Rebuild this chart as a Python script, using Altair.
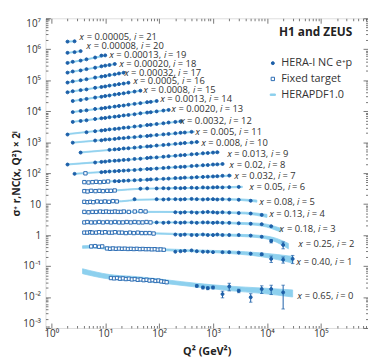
import altair as alt
import pandas as pd

# ---------------- data ----------------
# index of every list below = i  (the plotted value is sigma * 2**i)
X_VALUES = ["0.65", "0.40", "0.25", "0.18", "0.13", "0.08", "0.05", "0.032", "0.02",
            "0.013", "0.008", "0.005", "0.0032", "0.0020", "0.0013", "0.0008", "0.0005",
            "0.00032", "0.00020", "0.00013", "0.00008", "0.00005"]

HERA_Q2 = [
    [500, 650, 800, 1000, 1500, 2000, 3000, 5000, 8000, 12000, 20000],
    [200, 250, 300, 400, 500, 650, 800, 1000, 1500, 2000, 3000, 5000, 8000, 12000, 20000, 30000],
    [200, 250, 300, 400, 500, 650, 800, 1000, 1200, 1500, 2000, 3000, 5000, 8000, 12000, 20000],
    [90, 120, 150, 200, 250, 300, 400, 500, 650, 800, 1000, 1200, 1500, 2000, 3000, 5000, 8000, 12000],
    [200, 250, 300, 400, 500, 650, 800, 1000, 1200, 1500, 2000, 3000, 5000, 8000],
    [35, 90, 120, 150, 200, 250, 300, 400, 500, 650, 800, 1000, 1200, 1500, 2000, 3000, 5000],
    [45, 60, 90, 120, 150, 200, 250, 300, 400, 500, 650, 800, 1000, 1200, 1500, 2000, 3000],
    [15, 18, 22, 27, 35, 45, 60, 70, 90, 120, 150, 200, 250, 300, 400, 500, 650, 800, 1000, 1200, 1500, 2000],
    [2.7, 8.5, 10, 12, 15, 18, 22, 27, 35, 45, 60, 70, 90, 120, 150, 200, 250, 300, 400, 500, 650, 800, 1000, 1200, 1500],
    [2, 6.5, 8.5, 10, 12, 15, 18, 22, 27, 35, 45, 60, 70, 90, 120, 150, 200, 250, 300, 400, 500, 650, 800, 1000, 1200],
    [3.5, 12, 15, 18, 22, 27, 35, 45, 60, 70, 90, 120, 150, 200, 250, 300, 400, 500],
    [2.5, 6.5, 8.5, 10, 12, 15, 18, 22, 27, 35, 45, 60, 70, 90, 120, 150, 200, 250, 300, 400],
    [2, 4.5, 6.5, 8.5, 10, 12, 15, 18, 22, 27, 35, 45, 60, 70, 90, 120, 150, 200, 250],
    [2.5, 3.5, 4.5, 6.5, 8.5, 10, 12, 15, 18, 22, 27, 35, 45, 60, 70, 90, 120, 150],
    [2.5, 3.5, 4.5, 6.5, 8.5, 10, 12, 15, 18, 22, 27, 35, 45, 60, 70, 90],
    [2.5, 3.5, 4.5, 6.5, 8.5, 10, 12, 15, 18, 22, 27, 35, 45],
    [2, 2.5, 3.5, 4.5, 6.5, 8.5, 10, 12, 15, 18, 22, 27],
    [2, 2.5, 3.5, 4.5, 6.5, 8.5, 10, 12, 15, 18, 22],
    [2, 2.5, 3.5, 4.5, 6.5, 8.5, 10, 12, 15],
    [2, 2.5, 3.5, 4.5, 6.5, 8.5, 10],
    [2, 2.7, 3.5],
    [2, 2.7],
]
HERA_SIGMA = [
    [0.0228, 0.0203, 0.0193, 0.0203, 0.0124, 0.0218, 0.0158, 0.0098, 0.0180, 0.0180, 0.0141],
    [0.145, 0.15, 0.155, 0.16, 0.15, 0.145, 0.145, 0.14, 0.14, 0.14, 0.135, 0.125, 0.12, 0.085, 0.08, 0.085],
    [0.26, 0.25, 0.26, 0.25, 0.25, 0.26, 0.25, 0.25, 0.26, 0.25, 0.25, 0.25, 0.24, 0.22, 0.16, 0.12],
    [0.32, 0.31, 0.32, 0.32, 0.31, 0.32, 0.32, 0.31, 0.32, 0.32, 0.31, 0.32, 0.31, 0.31, 0.30, 0.29, 0.28, 0.24],
    [0.34, 0.33, 0.34, 0.34, 0.33, 0.34, 0.35, 0.34, 0.33, 0.34, 0.33, 0.32, 0.31, 0.28],
    [0.45, 0.45, 0.44, 0.45, 0.45, 0.44, 0.45, 0.46, 0.45, 0.44, 0.45, 0.45, 0.44, 0.45, 0.44, 0.43, 0.40],
    [0.49, 0.50, 0.50, 0.51, 0.50, 0.52, 0.51, 0.52, 0.53, 0.52, 0.54, 0.53, 0.54, 0.55, 0.54, 0.55, 0.56],
    [0.43, 0.43, 0.44, 0.45, 0.46, 0.47, 0.48, 0.49, 0.50, 0.51, 0.52, 0.54, 0.54, 0.56, 0.56, 0.58, 0.59, 0.60, 0.61, 0.62, 0.64, 0.65],
    [0.37, 0.42, 0.43, 0.44, 0.45, 0.46, 0.47, 0.48, 0.49, 0.51, 0.53, 0.53, 0.55, 0.57, 0.59, 0.61, 0.62, 0.63, 0.66, 0.68, 0.70, 0.71, 0.74, 0.75, 0.77],
    [0.37, 0.43, 0.45, 0.46, 0.48, 0.49, 0.50, 0.52, 0.53, 0.56, 0.57, 0.60, 0.62, 0.63, 0.66, 0.69, 0.71, 0.74, 0.75, 0.79, 0.81, 0.85, 0.87, 0.90, 0.92],
    [0.45, 0.55, 0.57, 0.58, 0.61, 0.62, 0.65, 0.68, 0.71, 0.72, 0.76, 0.79, 0.82, 0.86, 0.89, 0.92, 0.95, 0.99],
    [0.47, 0.55, 0.56, 0.59, 0.60, 0.62, 0.65, 0.66, 0.69, 0.71, 0.75, 0.77, 0.80, 0.83, 0.87, 0.90, 0.94, 0.98, 1.00, 1.05],
    [0.43, 0.51, 0.55, 0.58, 0.60, 0.63, 0.65, 0.67, 0.71, 0.73, 0.78, 0.81, 0.87, 0.89, 0.94, 0.99, 1.05, 1.10, 1.15],
    [0.55, 0.59, 0.62, 0.68, 0.72, 0.74, 0.78, 0.81, 0.84, 0.89, 0.92, 0.97, 1.04, 1.10, 1.13, 1.20, 1.28, 1.34],
    [0.57, 0.62, 0.65, 0.72, 0.75, 0.78, 0.82, 0.86, 0.90, 0.93, 0.99, 1.05, 1.11, 1.19, 1.22, 1.30],
    [0.65, 0.70, 0.76, 0.84, 0.89, 0.94, 0.98, 1.05, 1.10, 1.15, 1.23, 1.31, 1.40],
    [0.62, 0.67, 0.73, 0.77, 0.87, 0.92, 0.96, 1.02, 1.07, 1.14, 1.19, 1.26],
    [0.64, 0.70, 0.76, 0.82, 0.93, 1.00, 1.04, 1.12, 1.18, 1.26, 1.33],
    [0.67, 0.73, 0.79, 0.87, 0.97, 1.07, 1.13, 1.18, 1.27],
    [0.69, 0.75, 0.82, 0.90, 1.03, 1.19, 1.21],
    [0.73, 0.77, 0.83],
    [0.84, 0.86],
]
# error bars (same order as HERA points) for the three highest-x bins
HERA_ERR_0 = [0.002, 0.002, 0.002, 0.002, 0.003, 0.006, 0.002, 0.003, 0.005, 0.006, 0.010]
HERA_ERR_1 = [0, 0, 0, 0, 0, 0, 0, 0, 0, 0, 0, 0, 0.01, 0.02, 0.018, 0.025]
HERA_ERR_2 = [0, 0, 0, 0, 0, 0, 0, 0, 0, 0, 0, 0, 0, 0, 0.02, 0.03]

FT_Q2 = [
    [12.8, 14.6, 16.6, 18.8, 21.3, 24.2, 27.5, 31.2, 35.4, 40.2, 45.6, 51.7, 58.7, 66.6, 75.6, 85.8, 97.4, 110, 125, 138],
    [5.5, 6.5, 7.7, 8.8, 10.8, 12.3, 13.9, 15.8, 18, 20.5, 23.2, 26.4, 30, 34, 38.6, 43.9, 49.9, 56.7, 64.4, 73.2, 83.1, 94.4, 107, 122],
    [4.1, 4.66, 5.3, 5.76, 6.8, 7.7, 8.8, 10, 11.8, 13.4, 15.2, 18, 20.5, 24.2, 28.7, 33.9, 40.2, 47.6, 56.3, 66.7, 79],
    [4.1, 4.66, 5.5, 6.5, 7.7, 9.1, 10.9, 12.8, 15.2, 18, 21.2, 25.1, 29.7, 35.2, 41.7, 49.3, 58.4, 69.1],
    [4.1, 4.9, 5.8, 6.8, 8.05, 9.2, 10.4, 11.8, 13.4, 15.2, 17.2, 19.6, 22.2, 27.4, 35.3, 45.4, 56],
    [4.1, 4.7, 5.3, 6.0, 7.1, 8.4, 9.9, 11.7, 13.9, 16.4],
    [4.1, 4.7, 5.5, 6.6, 7.8, 9.1, 10.9, 12.7, 15],
    [4.1, 4.9, 5.8, 6.8, 8.0, 9.5, 11.3],
    [4.3],
] + [[] for _ in range(13)]
FT_SIGMA = [
    [0.041, 0.040, 0.041, 0.039, 0.040, 0.038, 0.039, 0.037, 0.038, 0.036, 0.037, 0.035, 0.036, 0.034, 0.035, 0.033, 0.034, 0.032, 0.031, 0.030],
    [0.215, 0.22, 0.21, 0.215, 0.185, 0.18, 0.185, 0.18, 0.183, 0.18, 0.182, 0.178, 0.18, 0.177, 0.18, 0.176, 0.178, 0.175, 0.176, 0.173, 0.175, 0.17, 0.172, 0.168],
    [0.30, 0.30, 0.31, 0.30, 0.30, 0.31, 0.30, 0.31, 0.30, 0.30, 0.31, 0.30, 0.30, 0.29, 0.30, 0.29, 0.30, 0.29, 0.29, 0.29, 0.28],
    [0.32, 0.33, 0.32, 0.32, 0.33, 0.32, 0.33, 0.32, 0.33, 0.32, 0.32, 0.33, 0.32, 0.33, 0.32, 0.32, 0.33, 0.32],
    [0.35, 0.34, 0.35, 0.35, 0.36, 0.35, 0.36, 0.35, 0.35, 0.36, 0.35, 0.35, 0.36, 0.35, 0.36, 0.37, 0.36],
    [0.37, 0.36, 0.37, 0.36, 0.38, 0.37, 0.38, 0.37, 0.39, 0.38],
    [0.41, 0.40, 0.42, 0.41, 0.42, 0.41, 0.42, 0.42, 0.43],
    [0.40, 0.39, 0.40, 0.41, 0.40, 0.41, 0.42],
    [0.385],
] + [[] for _ in range(13)]

# HERAPDF1.0 band: knots (Q2, sigma) and relative half width
BAND_Q2 = [
    [3.8, 12, 40, 140, 500, 2000, 8000, 30000],
    [3.8, 6, 10, 30, 100, 400, 2000, 8000, 30000],
    [4, 30, 200, 1000, 3000, 8000, 15000, 25000],
    [4, 70, 200, 1000, 3000, 8000, 18000],
    [4, 100, 1000, 4000, 10000],
    [4, 20, 40, 200, 2000, 5000, 6500],
    [4, 15, 45, 500, 3500],
    [4, 11, 30, 200, 2200],
    [2.6, 10, 100, 1600],
    [1.9, 10, 100, 1300],
    [3.3, 20, 100, 550],
    [2.4, 10, 60, 450],
    [1.9, 10, 60, 270],
    [2.4, 10, 50, 160],
    [2.4, 10, 40, 95],
    [2.4, 10, 47],
    [1.9, 6.5, 28],
    [1.9, 6.5, 23],
    [1.9, 6.5, 16],
    [1.9, 4.5, 10.5],
    [1.9, 3.6],
    [1.9, 2.8],
]
BAND_SIGMA = [
    [0.068, 0.045, 0.039, 0.031, 0.024, 0.019, 0.016, 0.013],
    [0.205, 0.21, 0.19, 0.18, 0.17, 0.155, 0.14, 0.115, 0.08],
    [0.30, 0.295, 0.27, 0.255, 0.245, 0.22, 0.17, 0.11],
    [0.32, 0.32, 0.32, 0.315, 0.30, 0.27, 0.18],
    [0.35, 0.35, 0.34, 0.32, 0.26],
    [0.365, 0.385, 0.43, 0.45, 0.445, 0.41, 0.39],
    [0.41, 0.43, 0.49, 0.52, 0.56],
    [0.40, 0.42, 0.45, 0.53, 0.65],
    [0.37, 0.43, 0.56, 0.77],
    [0.37, 0.46, 0.64, 0.93],
    [0.45, 0.59, 0.76, 0.99],
    [0.47, 0.58, 0.77, 1.06],
    [0.44, 0.60, 0.86, 1.16],
    [0.55, 0.74, 1.06, 1.35],
    [0.57, 0.78, 1.08, 1.31],
    [0.64, 0.94, 1.41],
    [0.62, 0.86, 1.27],
    [0.63, 0.92, 1.34],
    [0.66, 0.97, 1.29],
    [0.68, 0.90, 1.21],
    [0.72, 0.83],
    [0.84, 0.86],
]
BAND_WIDTH = [
    [0.2, 0.18, 0.16, 0.15, 0.15, 0.18, 0.22, 0.3],
    [0.1, 0.09, 0.08, 0.07, 0.07, 0.07, 0.1, 0.15, 0.28],
    [0.06, 0.05, 0.05, 0.06, 0.08, 0.1, 0.15, 0.22],
    [0.05, 0.04, 0.04, 0.05, 0.07, 0.1, 0.15],
    [0.05, 0.04, 0.05, 0.07, 0.12],
    [0.05, 0.04, 0.04, 0.04, 0.05, 0.07, 0.08],
    [0.04, 0.04, 0.04, 0.04, 0.05],
    [0.04, 0.04, 0.04, 0.04, 0.05],
    [0.04, 0.04, 0.04, 0.04],
    [0.04, 0.04, 0.04, 0.04],
    [0.04, 0.04, 0.04, 0.04],
    [0.04, 0.04, 0.04, 0.04],
    [0.04, 0.04, 0.04, 0.04],
    [0.04, 0.04, 0.04, 0.04],
    [0.04, 0.04, 0.04, 0.04],
    [0.04, 0.04, 0.04],
    [0.04, 0.04, 0.04],
    [0.04, 0.04, 0.04],
    [0.04, 0.04, 0.04],
    [0.04, 0.04, 0.04],
    [0.04, 0.04],
    [0.04, 0.04],
]

# series labels: anchor (Q2, sigma)
LABEL_Q2 = [36600, 35000, 38100, 17100, 10800, 7060, 4640, 2460, 2000, 1800, 596, 467,
            240, 166, 103, 51.1, 32.2, 22.0, 17.8, 11.7, 4.44, 3.31]
LABEL_SIGMA = [0.0107, 0.065, 0.127, 0.19, 0.29, 0.37, 0.55, 0.63, 0.70, 0.82, 0.94, 1.07,
               1.21, 1.44, 1.50, 1.51, 1.41, 1.31, 1.27, 1.21, 1.17, 1.18]

KINDS = ["HERA-I NC e\u207ap", "Fixed target", "HERAPDF1.0"]

X_MAJOR = [1, 10, 100, 1000, 10000, 100000]
X_MAJOR_LABELS = ["10\u2070", "10\u00b9", "10\u00b2", "10\u00b3", "10\u2074", "10\u2075"]
Y_MAJOR = [0.001, 0.01, 0.1, 1, 10, 100, 1000, 10000, 100000, 1000000, 10000000]
Y_MAJOR_LABELS = ["10\u207b\u00b3", "10\u207b\u00b2", "10\u207b\u00b9", "1", "10", "10\u00b2",
                  "10\u00b3", "10\u2074", "10\u2075", "10\u2076", "10\u2077"]

# ---------------- build tables ----------------
for a, b in [(HERA_Q2, HERA_SIGMA), (FT_Q2, FT_SIGMA), (BAND_Q2, BAND_SIGMA), (BAND_Q2, BAND_WIDTH)]:
    for u, v in zip(a, b):
        assert len(u) == len(v), (u, v)

pts, band, err = [], [], []
for i in range(22):
    f = 2 ** i
    for q, s in zip(HERA_Q2[i], HERA_SIGMA[i]):
        pts.append({"i": i, "q2": q, "v": s * f, "kind": KINDS[0]})
    for q, s in zip(FT_Q2[i], FT_SIGMA[i]):
        pts.append({"i": i, "q2": q, "v": s * f, "kind": KINDS[1]})
    for q, s, w in zip(BAND_Q2[i], BAND_SIGMA[i], BAND_WIDTH[i]):
        band.append({"i": i, "q2": q, "lo": s * f / (1 + w), "hi": s * f * (1 + w)})
for i, errs in [(0, HERA_ERR_0), (1, HERA_ERR_1), (2, HERA_ERR_2)]:
    f = 2 ** i
    for q, s, e in zip(HERA_Q2[i], HERA_SIGMA[i], errs):
        if e > 0:
            err.append({"q2": q, "lo": (s - e) * f, "hi": (s + e) * f})
caps = [{"q2": r["q2"], "v": r[k]} for r in err for k in ("lo", "hi")]
labels = [{"q2": LABEL_Q2[i], "v": LABEL_SIGMA[i] * 2 ** i,
           "t": f"\U0001D465 = {X_VALUES[i]}, \U0001D456 = {i}"} for i in range(22)]

pts_df, band_df, err_df = pd.DataFrame(pts), pd.DataFrame(band), pd.DataFrame(err)
caps_df, lab_df = pd.DataFrame(caps), pd.DataFrame(labels)

X_DOM = [0.78, 7.5e5]
Y_DOM = [1e-3, 1e7]
xs = alt.Scale(type="log", domain=X_DOM, nice=False)
ys = alt.Scale(type="log", domain=Y_DOM, nice=False)

X_MINOR = [m * 10 ** k for k in range(-1, 6) for m in range(2, 10) if X_DOM[0] < m * 10 ** k < X_DOM[1]]
Y_MINOR = [m * 10.0 ** k for k in range(-3, 7) for m in range(2, 10)]


def expr(vals, labs):
    return "".join(f"datum.value == {float(v)!r} ? '{l}' : " for v, l in zip(vals, labs)) + "''"


DOT = "#1d5fa8"
SQ = "#2b6cb3"
BAND = "#8dd0ee"
TICK = "#555555"
FONT = "Open Sans"

common = dict(domain=False, grid=False, tickColor=TICK, tickWidth=0.8)


def major(orient, labelled, **kw):
    base = dict(orient=orient, tickSize=5, offset=-5, **common)
    if labelled:
        base.update(labelFontSize=10, labelColor="#333333", labelFont=FONT, labelOverlap=False,
                    titleFontSize=11, titleFontWeight="bold", titleColor="#222222", titleFont=FONT)
    else:
        base.update(labels=False, title=None)
    base.update(kw)
    return alt.Axis(**base)


def minor(orient, vals):
    return alt.Axis(orient=orient, values=vals, tickSize=2.5, offset=-2.5, labels=False,
                    title=None, **common)


ax_bottom = major("bottom", True, values=X_MAJOR, labelExpr=expr(X_MAJOR, X_MAJOR_LABELS),
                  labelPadding=1, labelFlush=False, title="Q\u00b2 (GeV\u00b2)", titlePadding=7)
ax_left = major("left", True, values=Y_MAJOR, labelExpr=expr(Y_MAJOR, Y_MAJOR_LABELS),
                labelPadding=5, labelFlush=True,
                title="\u03c3\u207a r,NC(x, Q\u00b2) \u00d7 2\u2071", titlePadding=1,
                titleFontSize=10.5)

band_layer = alt.Chart(band_df).mark_area(
    color=BAND, stroke=BAND, strokeWidth=0.8, interpolate="monotone", opacity=1
).encode(
    x=alt.X("q2:Q", scale=xs, axis=ax_bottom),
    y=alt.Y("lo:Q", scale=ys, axis=ax_left),
    y2="hi:Q",
    detail="i:N",
)

leg = alt.Legend(title="H1 and ZEUS", orient="none", legendX=225, legendY=9,
                 titleFontSize=12, titleFontWeight="bold", titleColor="#222222", titleFont=FONT,
                 titleAnchor="end", titlePadding=19, labelFontSize=11, labelColor="#333333",
                 labelFont=FONT, rowPadding=4, labelOffset=3, symbolStrokeWidth=1)

pts_layer = alt.Chart(pts_df).mark_point(opacity=1, strokeWidth=1).encode(
    x=alt.X("q2:Q", scale=xs, axis=minor("bottom", X_MINOR)),
    y=alt.Y("v:Q", scale=ys, axis=minor("left", Y_MINOR)),
    shape=alt.Shape("kind:N", scale=alt.Scale(domain=KINDS, range=["circle", "square", "M-1.4,-0.4H1.4V0.4H-1.4Z"]), legend=leg),
    fill=alt.Fill("kind:N", scale=alt.Scale(domain=KINDS, range=[DOT, "#ffffff", BAND]), legend=leg),
    stroke=alt.Stroke("kind:N", scale=alt.Scale(domain=KINDS, range=[DOT, SQ, BAND]), legend=leg),
    size=alt.Size("kind:N", scale=alt.Scale(domain=KINDS, range=[9, 14, 25]), legend=leg),
)

err_layer = alt.Chart(err_df).mark_rule(color=DOT, strokeWidth=1).encode(
    x=alt.X("q2:Q", scale=xs, axis=major("top", False, values=X_MAJOR)),
    y=alt.Y("lo:Q", scale=ys, axis=major("right", False, values=Y_MAJOR)),
    y2="hi:Q",
)

cap_layer = alt.Chart(caps_df).mark_tick(orient="horizontal", color=DOT, thickness=1, size=3.5).encode(
    x=alt.X("q2:Q", scale=xs, axis=minor("top", X_MINOR)),
    y=alt.Y("v:Q", scale=ys, axis=minor("right", Y_MINOR)),
)

lab_layer = alt.Chart(lab_df).mark_text(
    align="left", baseline="middle", fontSize=9.5, font=FONT, color="#333333"
).encode(
    x=alt.X("q2:Q", scale=xs, axis=None),
    y=alt.Y("v:Q", scale=ys, axis=None),
    text="t:N",
)

chart = alt.layer(band_layer, pts_layer, err_layer, cap_layer, lab_layer).resolve_axis(
    x="independent", y="independent"
).properties(
    width=327, height=314,
    autosize=alt.AutoSizeParams(type="none"),
    padding={"left": 38, "top": 8, "right": 0, "bottom": 27},
).configure_view(stroke="#555555", strokeWidth=1).configure(font=FONT)

chart.save("out.html", embed_options={"renderer": "svg", "actions": False})
